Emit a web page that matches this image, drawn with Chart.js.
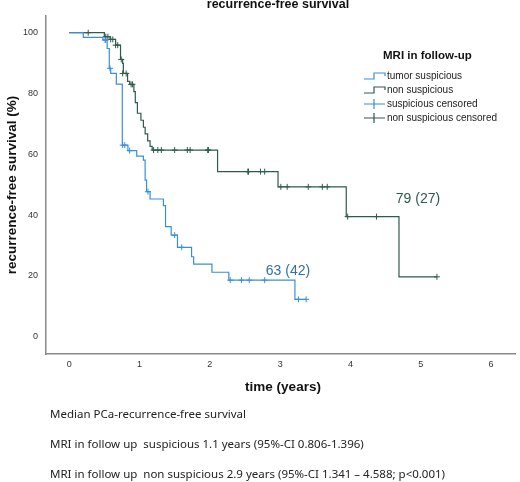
<!DOCTYPE html>
<html><head><meta charset="utf-8">
<script src="https://cdn.jsdelivr.net/npm/chart.js@4"></script>
<style>html,body{margin:0;padding:0;background:#fff}#w{width:520px;height:482px}</style>
</head><body><div id="w"><canvas id="c"></canvas></div>
<script>
const xTicks = [0,1,2,3,4,5,6];
const yTicks = [0,20,40,60,80,100];
const nsTime = [0,0.50,0.58,0.66,0.73,0.76,0.77,0.83,0.86,0.92,0.94,0.97,1.02,1.055,1.08,1.116,1.15,1.18,2.11,2.97,3.94,4.69,5.23];
const nsSurv = [100,98.7,97.8,95.9,91.2,89.9,86.6,84,83,80.6,77,73.5,71.2,68.9,66.7,64.4,62.6,61.4,54.3,49.3,39.5,19.7,19.7];
const nsCensTime = [0.27,0.52,0.55,0.59,0.62,0.66,0.69,0.74,0.76,0.81,0.88,0.90,1.20,1.26,1.31,1.50,1.68,1.72,1.97,1.98,2.54,2.55,2.72,2.78,3.01,3.10,3.40,3.60,3.67,3.96,4.37,5.23];
const nsCensSurv = [100,98.7,98.7,97.8,97.8,95.9,95.9,91.2,86.6,86.6,83,83,61.4,61.4,61.4,61.4,61.4,61.4,61.4,61.4,54.3,54.3,54.3,54.3,49.3,49.3,49.3,49.3,49.3,39.5,39.5,19.7];
const sTime = [0,0.20,0.48,0.54,0.57,0.59,0.67,0.755,0.835,0.96,1.055,1.08,1.10,1.15,1.34,1.37,1.45,1.54,1.74,1.77,2.03,2.27,3.21,3.37];
const sSurv = [100,98.5,97.6,94.8,88.3,86.6,83.1,63,61.2,59.4,58.1,51.5,47.7,45.3,43.1,36.2,33.4,29.4,26.3,23.9,21.2,18.6,12.3,12.3];
const sCensTime = [0.51,0.52,0.58,0.76,0.79,0.86,1.12,1.50,1.60,2.29,2.45,2.56,2.78,3.26,3.37];
const sCensSurv = [97.6,97.6,88.3,63,63,61.2,47.7,33.4,29.4,18.6,18.6,18.6,18.6,12.3,12.3];
const seriesNames = ['tumor suspicious','non suspicious','suspicious censored','non suspicious censored'];
const BLUE = '#3a8fd4', GREEN = '#2e5b4b';
const pts = (t,s)=>t.map((v,i)=>({x:v,y:s[i]}));

const overlay = {
  id:'overlay',
  afterDraw(ch){
    const c=ch.ctx;
    c.save();
    c.fillStyle='#111'; c.textAlign='center'; c.textBaseline='middle';
    c.font='bold 12.5px "Liberation Sans", Arial';
    c.fillText('recurrence-free survival',278,5);
    c.font='bold 13.5px "Liberation Sans", Arial';
    c.fillText('time (years)',283,387);
    c.save(); c.translate(12,185); c.rotate(-Math.PI/2);
    c.fillText('recurrence-free survival (%)',0,0); c.restore();
    c.font='14px "Liberation Sans", Arial';
    c.fillStyle='#2f6fb5'; c.fillText('63 (42)',288,271);
    c.fillStyle=GREEN; c.fillText('79 (27)',418,199);
    c.fillStyle='#111'; c.textAlign='left';
    c.font='bold 11.5px "Liberation Sans", Arial';
    c.fillText('MRI in follow-up',383,56);
    c.font='10px "Liberation Sans", Arial';
    const ly=[76,90,104,118], cols=[BLUE,GREEN,BLUE,GREEN];
    for(let i=0;i<4;i++){
      const y=ly[i]; c.strokeStyle=cols[i]; c.lineWidth=1.2; c.beginPath();
      if(i<2){ c.moveTo(364,y+3); c.lineTo(374,y+3); c.lineTo(374,y-3); c.lineTo(385,y-3); c.lineTo(385,y);}
      else { c.moveTo(364,y); c.lineTo(385,y); c.moveTo(374,y-5); c.lineTo(374,y+5);}
      c.stroke();
      c.fillStyle='#222'; c.fillText(seriesNames[i],387,y);
    }
    c.font='11.5px "Noto Sans", "Liberation Sans", Arial'; c.fillStyle='#222';
    c.fillText('Median PCa-recurrence-free survival',50,415);
    c.fillText('MRI in follow up  suspicious 1.1 years (95%-CI 0.806-1.396)',50,445);
    c.fillText('MRI in follow up  non suspicious 2.9 years (95%-CI 1.341 – 4.588; p<0.001)',50,475);
    c.restore();
  }
};

new Chart(document.getElementById('c'),{
  type:'scatter',
  data:{datasets:[
    {label:seriesNames[0],data:pts(sTime,sSurv),showLine:true,stepped:'before',borderColor:BLUE,borderWidth:1.2,pointRadius:0},
    {label:seriesNames[1],data:pts(nsTime,nsSurv),showLine:true,stepped:'before',borderColor:GREEN,borderWidth:1.2,pointRadius:0},
    {label:seriesNames[2],data:pts(sCensTime,sCensSurv),showLine:false,pointStyle:'cross',pointRadius:3,borderColor:BLUE,borderWidth:1,backgroundColor:BLUE},
    {label:seriesNames[3],data:pts(nsCensTime,nsCensSurv),showLine:false,pointStyle:'cross',pointRadius:3,borderColor:GREEN,borderWidth:1,backgroundColor:GREEN}
  ]},
  options:{
    responsive:true,maintainAspectRatio:false,animation:false,
    layout:{padding:{top:16,right:0,left:0,bottom:0}},
    plugins:{legend:{display:false},tooltip:{enabled:false}},
    scales:{
      x:{type:'linear',min:-0.33,max:6.34,
        afterBuildTicks:s=>{s.ticks=xTicks.map(v=>({value:v}));},
        afterFit:s=>{s.height=128;},
        grid:{display:false,drawTicks:false},border:{display:true,color:'#8a8a8a',width:1.5},
        ticks:{padding:5,color:'#333',font:{size:9,family:'"Liberation Sans", Arial'}}},
      y:{type:'linear',min:-5.7,max:105.5,
        afterBuildTicks:s=>{s.ticks=yTicks.map(v=>({value:v}));},
        afterFit:s=>{s.width=46;},
        grid:{display:false,drawTicks:false},border:{display:true,color:'#8a8a8a',width:1.5},
        ticks:{padding:8,color:'#333',font:{size:9,family:'"Liberation Sans", Arial'}}}
    }
  },
  plugins:[overlay]
});
</script></body></html>
